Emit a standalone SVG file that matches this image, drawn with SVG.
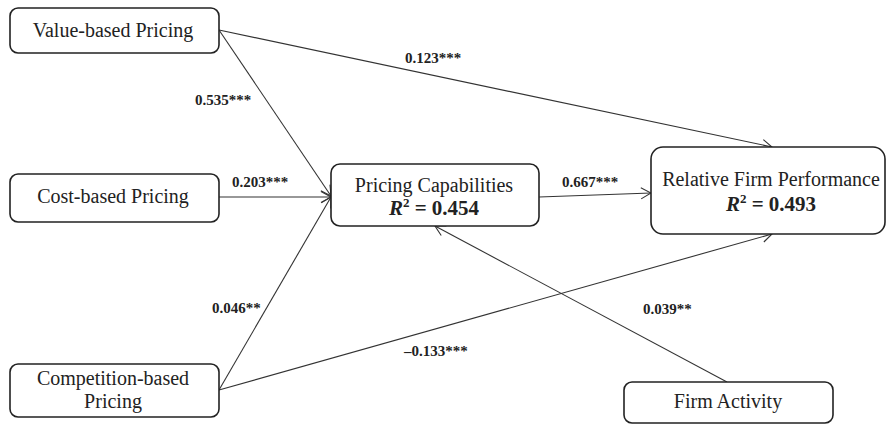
<svg xmlns="http://www.w3.org/2000/svg" width="888" height="425" viewBox="0 0 888 425">
<style>
.box{fill:#fff;stroke:#222;stroke-width:1.6}
.t{font-family:"Liberation Serif","Times New Roman",serif;font-size:20px;fill:#222;text-anchor:middle}
.r{font-family:"Liberation Serif","Times New Roman",serif;font-size:21px;font-weight:bold;fill:#222;text-anchor:middle}
.l{font-family:"Liberation Serif","Times New Roman",serif;font-size:15px;font-weight:bold;fill:#222}
.c{stroke:#333;stroke-width:1.1;fill:none;marker-end:url(#a)}
</style>
<defs>
<marker id="a" markerUnits="userSpaceOnUse" markerWidth="14" markerHeight="14" viewBox="0 0 14 14" refX="13" refY="7" orient="auto">
<path d="M3,1.5 L13,7 L3,12.5" fill="none" stroke="#333" stroke-width="1.1"/>
</marker>
</defs>
<g id="connectors">
<line class="c" x1="219" y1="30" x2="331" y2="196"/>
<line class="c" x1="219" y1="30" x2="772" y2="147"/>
<line class="c" x1="219" y1="197" x2="331" y2="197"/>
<line class="c" x1="219" y1="390" x2="331" y2="197"/>
<line class="c" x1="219" y1="390" x2="772" y2="234"/>
<line class="c" x1="539" y1="197" x2="651" y2="193"/>
<line class="c" x1="727" y1="382" x2="435" y2="226"/>
<text class="l" x="405" y="63">0.123***</text>
<text class="l" x="195" y="105">0.535***</text>
<text class="l" x="232" y="187">0.203***</text>
<text class="l" x="562" y="187">0.667***</text>
<text class="l" x="212" y="313">0.046**</text>
<text class="l" x="643" y="314">0.039**</text>
<text class="l" x="404" y="356">–0.133***</text>
</g>
<g id="value">
<rect class="box" x="10" y="8" width="209" height="45" rx="8"/>
<text class="t" x="113" y="37">Value-based Pricing</text>
</g>
<g id="cost">
<rect class="box" x="10" y="174" width="209" height="48" rx="8"/>
<text class="t" x="113" y="203">Cost-based Pricing</text>
</g>
<g id="competition">
<rect class="box" x="10" y="364" width="209" height="53" rx="8"/>
<text class="t" x="113" y="385">Competition-based</text>
<text class="t" x="113" y="408">Pricing</text>
</g>
<g id="capabilities">
<rect class="box" x="331" y="164" width="208" height="62" rx="9"/>
<text class="t" x="434" y="192">Pricing Capabilities</text>
<text class="r" x="434" y="215"><tspan font-style="italic">R</tspan><tspan font-size="13" dy="-8">2</tspan><tspan dy="8"> = 0.454</tspan></text>
</g>
<g id="performance">
<rect class="box" x="651" y="147" width="234" height="87" rx="12"/>
<text class="t" x="771" y="186">Relative Firm Performance</text>
<text class="r" x="771" y="211"><tspan font-style="italic">R</tspan><tspan font-size="13" dy="-8">2</tspan><tspan dy="8"> = 0.493</tspan></text>
</g>
<g id="activity">
<rect class="box" x="624" y="382" width="209" height="41" rx="8"/>
<text class="t" x="728" y="408">Firm Activity</text>
</g>
</svg>
